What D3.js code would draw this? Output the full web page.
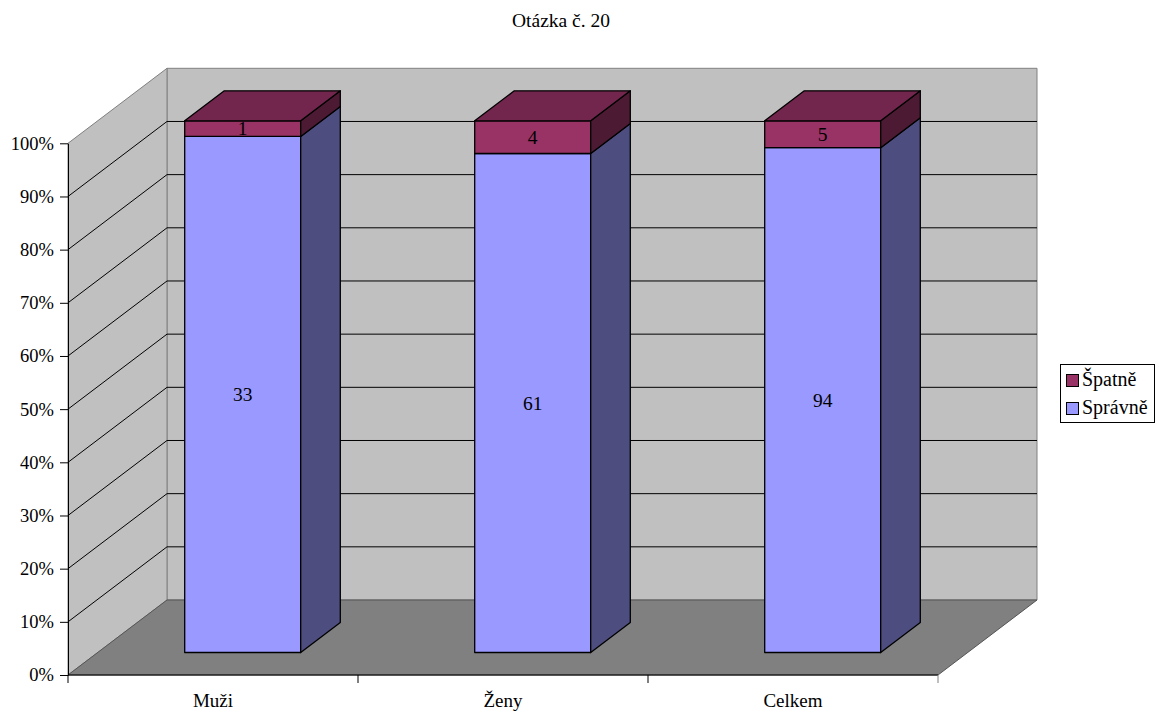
<!DOCTYPE html>
<html>
<head>
<meta charset="utf-8">
<script src="https://cdn.jsdelivr.net/npm/d3@7/dist/d3.min.js"></script>
<style>
  html, body { margin: 0; padding: 0; background: #fff; }
  svg { display: block; }
</style>
</head>
<body>
<svg id="chart" width="1163" height="713"></svg>
<script>
// Chart data
const title = "Otázka č. 20";
const categories = ["Muži", "Ženy", "Celkem"];
const seriesNames = ["Správně", "Špatně"];
const spravne = [33, 61, 94];
const spatne = [1, 4, 5];
const yTicks = [0, 0.1, 0.2, 0.3, 0.4, 0.5, 0.6, 0.7, 0.8, 0.9, 1];

// Colours
const colors = {
  "Správně": { front: "#9999FF", side: "#4D4D80", top: "#7A7ACC" },
  "Špatně": { front: "#993366", side: "#4D1A33", top: "#73264D" }
};
const wallFill = "#C0C0C0";
const floorFill = "#808080";
const edgeColor = "#808080";
const FONT = "'Liberation Serif', 'Times New Roman', serif";
const FS = 18.5;

// Geometry of the oblique 3D box
const plotLeft = 68, plotRight = 938;
const plotBottom = 675, plotTop = 143.3;
const depthX = 99, depthY = -75;   // offset of the back plane
const barZ0 = 0.3, barZ1 = 0.7;     // depth slot occupied by the bars

const svg = d3.select("#chart");

const y = d3.scaleLinear().domain([0, 1]).range([plotBottom, plotTop]);
const x = d3.scaleBand().domain(categories).range([plotLeft, plotRight])
  .paddingInner(0.6).paddingOuter(0.3);
const xEdge = d3.scaleLinear().domain([0, categories.length]).range([plotLeft, plotRight]);

// project front-plane point (px, py) to depth z in [0,1]
const P = (px, py, z) => [px + z * depthX, py + z * depthY];
const poly = pts => pts.map(p => p.join(",")).join(" ");
const serif = sel => sel.attr("font-family", FONT).attr("fill", "#000");

// Walls and floor
const g = svg.append("g");
// back wall
g.append("polygon")
  .attr("points", poly([P(plotLeft, y(1), 1), P(plotRight, y(1), 1), P(plotRight, y(0), 1), P(plotLeft, y(0), 1)]))
  .attr("fill", wallFill).attr("stroke", edgeColor).attr("stroke-width", 1);
// side wall
g.append("polygon")
  .attr("points", poly([P(plotLeft, y(1), 0), P(plotLeft, y(1), 1), P(plotLeft, y(0), 1), P(plotLeft, y(0), 0)]))
  .attr("fill", wallFill).attr("stroke", edgeColor).attr("stroke-width", 1);
// floor
g.append("polygon")
  .attr("points", poly([P(plotLeft, y(0), 0), P(plotRight, y(0), 0), P(plotRight, y(0), 1), P(plotLeft, y(0), 1)]))
  .attr("fill", floorFill).attr("stroke", "#555").attr("stroke-width", 1);

// Gridlines on side wall and back wall
const grid = yTicks.filter(v => v > 0 && v < 1);
g.selectAll("line.gside").data(grid).join("line")
  .attr("class", "gside")
  .attr("x1", plotLeft).attr("y1", d => y(d))
  .attr("x2", d => P(plotLeft, y(d), 1)[0]).attr("y2", d => P(plotLeft, y(d), 1)[1])
  .attr("stroke", "#000").attr("stroke-width", 1);
g.selectAll("line.gback").data(grid).join("line")
  .attr("class", "gback")
  .attr("x1", d => P(plotLeft, y(d), 1)[0]).attr("y1", d => P(plotLeft, y(d), 1)[1])
  .attr("x2", d => P(plotRight, y(d), 1)[0]).attr("y2", d => P(plotRight, y(d), 1)[1])
  .attr("stroke", "#000").attr("stroke-width", 1);

// Y axis on the front plane
const yAxis = d3.axisLeft(y).tickValues(yTicks).tickFormat(d3.format(".0%"))
  .tickSize(8).tickSizeOuter(0).tickPadding(6);
const ya = svg.append("g").attr("transform", `translate(${plotLeft},0)`).call(yAxis)
  .attr("font-family", FONT).attr("font-size", FS);
ya.select(".domain").attr("stroke", "#000");
ya.selectAll(".tick line").attr("stroke", "#000");
ya.selectAll(".tick text").call(serif).attr("font-size", FS);

// X axis: front floor edge, ticks at category boundaries
svg.append("line").attr("x1", plotLeft).attr("x2", plotRight).attr("y1", plotBottom).attr("y2", plotBottom)
  .attr("stroke", "#000").attr("stroke-width", 1);
svg.selectAll("line.xtick").data(d3.range(categories.length + 1)).join("line")
  .attr("class", "xtick")
  .attr("x1", d => xEdge(d)).attr("x2", d => xEdge(d))
  .attr("y1", plotBottom).attr("y2", plotBottom + 8)
  .attr("stroke", d => d === categories.length ? "#808080" : "#000");
svg.selectAll("text.xlab").data(categories).join("text")
  .attr("class", "xlab")
  .attr("x", d => x(d) + x.bandwidth() / 2)
  .attr("y", 707)
  .attr("text-anchor", "middle")
  .call(serif)
  .attr("font-size", 19)
  .text(d => d);

// Stacked 100% bars
const stacks = categories.map((c, i) => {
  const total = spravne[i] + spatne[i];
  const a = spravne[i] / total;
  return {
    cat: c,
    segs: [
      { name: "Správně", v: spravne[i], y0: 0, y1: a },
      { name: "Špatně", v: spatne[i], y0: a, y1: 1 }
    ]
  };
});

const bars = svg.selectAll("g.bar").data(stacks).join("g").attr("class", "bar");
bars.each(function(s) {
  const bg = d3.select(this);
  const x0 = x(s.cat), x1 = x(s.cat) + x.bandwidth();
  s.segs.forEach((seg, k) => {
    const c = colors[seg.name];
    const yb = y(seg.y0), yt = y(seg.y1);
    // front face
    bg.append("polygon")
      .attr("points", poly([P(x0, yt, barZ0), P(x1, yt, barZ0), P(x1, yb, barZ0), P(x0, yb, barZ0)]))
      .attr("fill", c.front).attr("stroke", "#000").attr("stroke-width", 1.3).attr("stroke-linejoin", "round");
    // right side
    bg.append("polygon")
      .attr("points", poly([P(x1, yt, barZ0), P(x1, yt, barZ1), P(x1, yb, barZ1), P(x1, yb, barZ0)]))
      .attr("fill", c.side).attr("stroke", "#000").attr("stroke-width", 1.3).attr("stroke-linejoin", "round");
    // top face (only visible on the topmost segment)
    if (k === s.segs.length - 1) {
      bg.append("polygon")
        .attr("points", poly([P(x0, yt, barZ0), P(x1, yt, barZ0), P(x1, yt, barZ1), P(x0, yt, barZ1)]))
        .attr("fill", c.top).attr("stroke", "#000").attr("stroke-width", 1.3).attr("stroke-linejoin", "round");
    }
    // value label centred on the front face
    const [cx, cy] = P((x0 + x1) / 2, (yt + yb) / 2, barZ0);
    bg.append("text")
      .attr("x", cx).attr("y", cy)
      .attr("text-anchor", "middle").attr("dy", "0.35em")
      .call(serif)
      .attr("font-size", 19.5)
      .text(seg.v);
  });
});

// Title
svg.append("text").attr("x", 561).attr("y", 27).attr("text-anchor", "middle")
  .call(serif).attr("font-size", 19.5).text(title);

// Legend
const lg = svg.append("g").attr("transform", "translate(1060,364)");
lg.append("rect").attr("x", 0.5).attr("y", 0.5).attr("width", 94).attr("height", 58)
  .attr("fill", "#fff").attr("stroke", "#000").attr("stroke-width", 1);
const legendItems = ["Špatně", "Správně"];
lg.selectAll("g.li").data(legendItems).join("g").attr("class", "li")
  .attr("transform", (d, i) => `translate(6,${16 + i * 28})`)
  .each(function(d) {
    const it = d3.select(this);
    it.append("rect").attr("x", 0.5).attr("y", -5.5).attr("width", 12).attr("height", 12)
      .attr("fill", colors[d].front).attr("stroke", "#000").attr("stroke-width", 1);
    it.append("text").attr("x", 16).attr("y", 6)
      .call(serif)
      .attr("font-size", 20).text(d);
  });
</script>
</body>
</html>
